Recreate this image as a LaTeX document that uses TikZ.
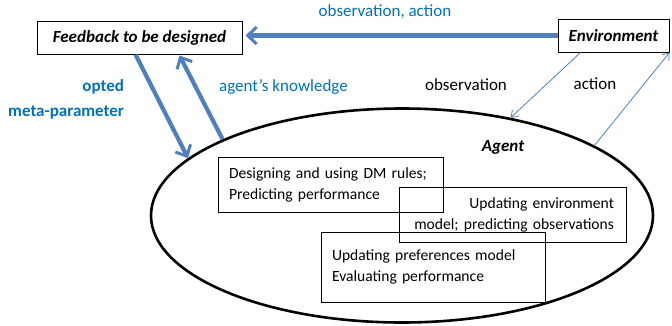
\documentclass[tikz,border=0pt]{standalone}
\usepackage{fontspec}
\setmainfont{Carlito}
\usetikzlibrary{arrows.meta,shapes.geometric,calc}
\definecolor{arrblue}{HTML}{4F7FBF}
\definecolor{txtblue}{HTML}{0070C0}
\tikzset{
  box/.style={draw=black,line width=1pt,inner xsep=11pt,inner ysep=0pt,font=\fontsize{15.6}{21}\selectfont},
  titlebox/.style={draw=black,line width=1pt,inner sep=0pt,font=\fontsize{17}{21}\selectfont\bfseries\itshape},
  bigarrow/.style={draw=arrblue,line width=4.2pt,-{Straight Barb[length=9pt,width=17pt,line width=3pt]}},
  thinarrow/.style={draw=arrblue,line width=0.8pt,-{Straight Barb[length=6pt,width=9pt,line width=0.8pt]}},
  bluelbl/.style={text=txtblue,font=\fontsize{17}{21}\selectfont},
  blacklbl/.style={text=black,font=\fontsize{17}{21}\selectfont},
}
\begin{document}
\begin{tikzpicture}[x=1pt,y=-1pt]
\useasboundingbox (0,0) rectangle (672,325);
% Agent ellipse
\node[draw=black,line width=2.6pt,ellipse,minimum width=502pt,minimum height=214pt,inner sep=0pt] (agent) at (402,215.5) {};
\node[font=\fontsize{17}{21}\selectfont\bfseries\itshape] (agentlbl) at (503,147) {Agent};
% top boxes
\node[titlebox,minimum width=205pt,minimum height=33pt] (fb) at (139.5,37.5) {Feedback to be designed};
\node[titlebox,minimum width=111pt,minimum height=33pt] (env) at (613.5,35.5) {Environment};
% inner boxes
\node[box,text width=203pt,minimum height=55pt,align=left] (b1) at (330.5,184.5) {Designing and using DM rules;\\Predicting performance};
\node[box,text width=203pt,minimum height=55pt,align=right,inner xsep=12pt] (b2) at (512.5,214.5) {Updating environment\\model; predicting observations};
\node[box,text width=202pt,minimum height=70pt,align=left] (b3) at (433,267) {Updating preferences model\\Evaluating performance};
% arrows
\draw[bigarrow] (env.west) -- ($(fb.east)+(3pt,2pt)$);
\draw[bigarrow] ($(fb.south west)+(99pt,0)$) -- (agent.165.5);
\draw[bigarrow] (agent.157) -- ($(fb.south west)+(143pt,-1pt)$);
\draw[thinarrow] ($(env.south west)+(23pt,0)$) -- (agent.42);
\draw[thinarrow] (agent.20.6) -- ($(env.south east)+(0,0)$);
% labels
\node[bluelbl] (oa) at (385,12) {observation, action};
\node[bluelbl,font=\fontsize{17}{21}\selectfont\bfseries,anchor=east] (opted) at (127.5,87) {opted};
\node[bluelbl,font=\fontsize{17}{21}\selectfont\bfseries,anchor=east] (meta) at (127.5,112) {meta-parameter};
\node[bluelbl] (ak) at (283.5,87) {agent’s knowledge};
\node[blacklbl] (obs) at (466,85) {observation};
\node[blacklbl] (act) at (595,84) {action};
\end{tikzpicture}
\end{document}
